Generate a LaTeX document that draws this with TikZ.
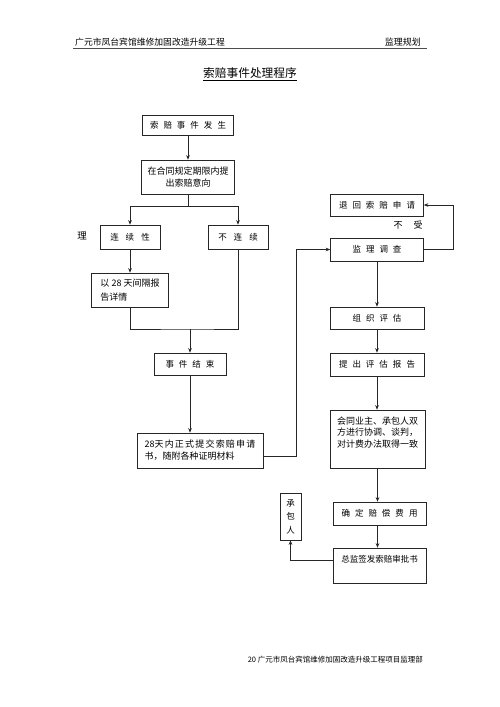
\documentclass[tikz,border=0pt]{standalone}
\usepackage{fontspec}
\setmainfont{Noto Sans CJK SC}
\usetikzlibrary{arrows.meta}

\newcommand\espacio[3]{\fontsize{#1}{#3}\selectfont\spaceskip=#2\relax}
% texto pegado arriba dentro de una caja de alto fijo
\newcommand\arriba[4]{\begin{minipage}[c][#2][t]{#1}\centering\vspace*{#3}#4\end{minipage}}

\tikzset{
  caja/.style={draw=black!85, line width=0.7pt, inner sep=0pt,
    font=\fontsize{9}{12}\selectfont},
  espaciado/.style={caja, font=\espacio{8.5pt}{5pt}{10pt}},
  flecha/.style={-{Stealth[length=4.5pt,width=3.6pt]}, line width=0.6pt, black!85},
  linea/.style={line width=0.6pt, black!85},
}

\begin{document}
\begin{tikzpicture}[x=1pt, y=-1pt]
    \useasboundingbox (0,0) rectangle (500,707);

    % cabecera y titulo
    \node[anchor=base west, font=\fontsize{8.8}{10}\selectfont, inner sep=0pt] (cab) at (75,45.5) {广元市凤台宾馆维修加固改造升级工程};
    \node[anchor=base east, font=\fontsize{9}{10}\selectfont, inner sep=0pt] (plan) at (421,45.5) {监理规划};
    \draw[black!70, line width=0.9pt] (73,48.5) -- (427,48.5);
    \node[font=\fontsize{11.7}{13}\selectfont] (tit) at (250,74) {\underline{索赔事件处理程序}};

    % columna izquierda
    \node[espaciado, minimum width=91pt, minimum height=20pt] (fs) at (188,125) {索 赔 事 件 发 生};
    \node[caja, align=center, minimum width=93pt, minimum height=34pt] (yx) at (188,177) {在合同规定期限内提\\出索赔意向};
    \draw[flecha] (fs) -- (yx);

    \node[font=\fontsize{9.5}{10}\selectfont] (li) at (82,236) {理};
    \node[espaciado, font=\espacio{8.5pt}{7pt}{10pt}, minimum width=60pt, minimum height=24pt] (lx) at (130,237) {连 续 性};
    \node[espaciado, font=\espacio{8.5pt}{7pt}{10pt}, minimum width=60pt, minimum height=24pt] (blx) at (238,237) {不 连 续};
    \draw[linea] (yx.south) -- ++(0,12) coordinate (bif);
    \draw[flecha] (bif) -| (lx.north);
    \draw[flecha] (bif) -| (blx.north);

    \node[caja, align=left, minimum width=77pt, minimum height=34pt,
        font=\fontsize{9}{13.5}\selectfont] (bg) at (130,290) {以 28 天间隔报\\告详情};
    \draw[flecha] (lx) -- (bg);

    % union de las dos ramas
    \node[espaciado, minimum width=72pt, minimum height=22pt] (js) at (190,364) {事 件 结 束};
    \coordinate (hb) at (190,329);
    \draw[linea] (bg.south) |- (hb) -| (blx.south);
    \draw[flecha] (hb) -- (js.north);

    \node[caja, align=left, minimum width=126pt, minimum height=35pt,
        font=\espacio{9pt}{1.2pt}{12pt}] (sq) at (200,450.5) {28天 内 正 式 提 交 索 赔 申 请\\书，随附各种证明材料};
    \draw[flecha] (js.south) -- (js.south |- sq.north);

    % columna derecha
    \node[espaciado, minimum width=93pt, minimum height=22pt] (th) at (377,205) {退 回 索 赔 申 请};
    \node[espaciado, minimum width=93pt, minimum height=23pt] (dc) at (377,249.5) {监 理 调 查};
    \node[font=\espacio{9pt}{11pt}{10pt}] (nb) at (408,225) {不 受};
    \draw[flecha] ([yshift=-5.5pt]sq.east) -- ++(33,0) |- (dc.west);
    \draw[flecha] (dc.east) -- ++(29,0) |- (th.east);

    \node[espaciado, minimum width=94pt, minimum height=22pt] (pg) at (377,318) {组 织 评 估};
    \node[espaciado, minimum width=94pt, minimum height=23pt] (bgs) at (377,364.5) {提 出 评 估 报 告};
    \node[caja, font=\fontsize{9}{11.5}\selectfont] (xt) at (377.5,439)
        {\arriba{95pt}{58pt}{6.5pt}{会同业主、承包人双\\方进行协调、谈判，\\对计费办法取得一致}};
    \node[espaciado, minimum width=93pt, minimum height=23pt] (qd) at (379.5,513.5) {确 定 赔 偿 费 用};
    \node[caja, font=\fontsize{8.5}{10}\selectfont] (sps) at (379.5,565.5)
        {\arriba{93pt}{35pt}{7.5pt}{总监签发索赔审批书}};
    \draw[flecha] (dc.south) -- (pg.north);
    \draw[flecha] (pg.south) -- (bgs.north);
    \draw[flecha] (bgs.south) -- (bgs.south |- xt.north);
    \draw[flecha] (xt.south) -- (xt.south |- qd.north);
    \draw[flecha] (xt.south |- qd.south) -- (xt.south |- sps.north);

    \node[caja, align=center, minimum width=21pt, minimum height=47pt,
        font=\fontsize{8.5}{13.5}\selectfont] (cbr) at (290.5,516.5) {承\\包\\人};
    \draw[flecha] ([yshift=5.5pt]sps.west) -| (cbr.south);

    % pie de pagina
    \node[anchor=base east, inner sep=0pt, font=\fontsize{7.5}{9}\selectfont] (pie) at (423,662) {20 广元市凤台宾馆维修加固改造升级工程项目监理部};
\end{tikzpicture}
\end{document}
